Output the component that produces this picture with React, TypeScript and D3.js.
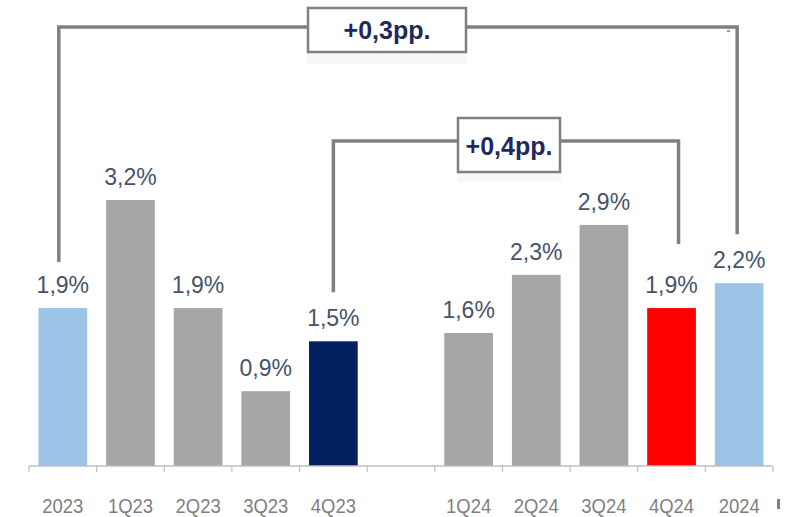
import React from "react";
import * as d3 from "d3";

const categories = ["2023", "1Q23", "2Q23", "3Q23", "4Q23", "", "1Q24", "2Q24", "3Q24", "4Q24", "2024"];
const values: (number | null)[] = [1.9, 3.2, 1.9, 0.9, 1.5, null, 1.6, 2.3, 2.9, 1.9, 2.2];
const valueLabels = ["1,9%", "3,2%", "1,9%", "0,9%", "1,5%", "", "1,6%", "2,3%", "2,9%", "1,9%", "2,2%"];
const barColors = ["#9DC3E6", "#A6A6A6", "#A6A6A6", "#A6A6A6", "#002060", "none", "#A6A6A6", "#A6A6A6", "#A6A6A6", "#FF0000", "#9DC3E6"];
const bracketLabels = ["+0,3pp.", "+0,4pp."];

const W = 786;
const H = 517;
const x0 = 29;
const x1 = 773;
const baseY = 466;

export default function App() {
  const keys = categories.map((c, i) => c + "_" + i);
  const x = d3.scaleBand<string>().domain(keys).range([x0, x1]).paddingInner(0.28).paddingOuter(0.14);
  const y = d3.scaleLinear().domain([0, 3.2]).range([baseY, 200]);
  const step = x.step();
  const cx = (i: number) => (x(keys[i]) as number) + x.bandwidth() / 2;
  const tickXs = d3.range(categories.length + 1).map((i) => x0 + i * step);

  const grey = "#808080";
  const oL = cx(0) - 4;
  const oR = cx(10) - 2;
  const oTop = 27;
  const oLb = y(values[0] as number) - 46;
  const oRb = y(values[10] as number) - 49;
  const iL = cx(4);
  const iR = cx(9) + 7;
  const iTop = 141;
  const iLb = y(values[4] as number) - 49;
  const iRb = y(values[9] as number) - 64;

  return (
    <svg width={W} height={H} style={{ position: "absolute", left: 0, top: 0, background: "#fff" }}>
      <rect x={0} y={0} width={W} height={H} fill="#fff" />
      {values.map((v, i) =>
        v == null ? null : (
          <rect key={"b" + i} x={x(keys[i])} y={y(v)} width={x.bandwidth()} height={baseY - y(v)} fill={barColors[i]} />
        )
      )}
      {values.map((v, i) =>
        v == null ? null : (
          <text key={"v" + i} x={cx(i)} y={y(v) - 15} textAnchor="middle" fontFamily="Liberation Sans, Arial, sans-serif" fontSize={23} fill="#44546A">
            {valueLabels[i]}
          </text>
        )
      )}
      <line x1={x0} x2={x1} y1={baseY} y2={baseY} stroke="#BFBFBF" strokeWidth={1.5} />
      {tickXs.map((t, i) => (
        <line key={"t" + i} x1={t} x2={t} y1={baseY} y2={baseY + 6} stroke="#BFBFBF" strokeWidth={1.2} />
      ))}
      {categories.map((c, i) => (
        <text
          key={"c" + i}
          transform={`translate(${cx(i)},512.5) scale(0.9,1)`}
          textAnchor="middle"
          fontFamily="Liberation Sans, Arial, sans-serif"
          fontSize={20.5}
          fill="#7F7F7F"
        >
          {c}
        </text>
      ))}
      <rect x={777} y={499} width={3} height={10} fill="#7F7F7F" />
      <path d={`M${oL},${oLb} V${oTop} H${oR} V${oRb}`} fill="none" stroke={grey} strokeWidth={3.5} />
      <rect x={727} y={30} width={3} height={2} fill="#999" />
      <rect x={307} y={52} width={160} height={12} fill="#F7F7F7" />
      <rect x={308} y={8} width={158} height={44} fill="#fff" stroke={grey} strokeWidth={2.5} />
      <text x={387} y={39} textAnchor="middle" fontFamily="Liberation Sans, Arial, sans-serif" fontWeight="bold" fontSize={25} fill="#1F2A5C">
        {bracketLabels[0]}
      </text>
      <path d={`M${iL},${iLb} V${iTop} H${iR} V${iRb}`} fill="none" stroke={grey} strokeWidth={3.5} />
      <rect x={457} y={172} width={104} height={10} fill="#F7F7F7" />
      <rect x={458} y={118} width={102} height={54} fill="#fff" stroke={grey} strokeWidth={2.5} />
      <text x={509} y={155} textAnchor="middle" fontFamily="Liberation Sans, Arial, sans-serif" fontWeight="bold" fontSize={25} fill="#1F2A5C">
        {bracketLabels[1]}
      </text>
    </svg>
  );
}
